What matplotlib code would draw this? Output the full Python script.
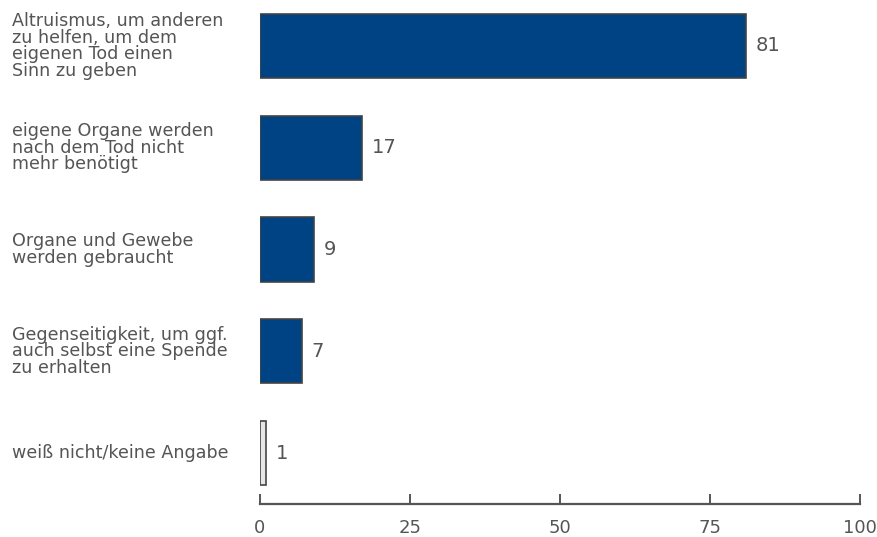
import matplotlib
matplotlib.use('Agg')
import matplotlib.pyplot as plt
import matplotlib.transforms as mtransforms

# data
categories = [
    'Altruismus, um anderen\nzu helfen, um dem\neigenen Tod einen\nSinn zu geben',
    'eigene Organe werden\nnach dem Tod nicht\nmehr benötigt',
    'Organe und Gewebe\nwerden gebraucht',
    'Gegenseitigkeit, um ggf.\nauch selbst eine Spende\nzu erhalten',
    'weiß nicht/keine Angabe',
]
values = [81, 17, 9, 7, 1]
fill_colors = ['#004384', '#004384', '#004384', '#004384', '#e6e6e6']
x_ticks = [0, 25, 50, 75, 100]

text_grey = '#555555'

fig = plt.figure(figsize=(8.78, 5.37), dpi=100)
ax = fig.add_axes([260 / 878, 33 / 537, 600 / 878, 504 / 537])

ypos = list(range(len(categories)))
ax.barh(ypos, values, height=0.63, color=fill_colors,
        edgecolor='#444444', linewidth=1.2)

# value labels next to bars
for y, v in zip(ypos, values):
    ax.text(v + 1.6, y, str(v), va='center', ha='left',
            fontsize=14, color=text_grey)

# category labels, left aligned at the figure edge
trans = mtransforms.blended_transform_factory(fig.transFigure, ax.transData)
for y, lab in zip(ypos, categories):
    ax.text(12 / 878, y, lab, transform=trans, va='center', ha='left',
            fontsize=12.6, color=text_grey, linespacing=0.9)

ax.set_xlim(0, 100)
ax.set_ylim(4.5, -0.45)
ax.set_yticks([])
ax.set_xticks(x_ticks)
ax.set_xticklabels([str(t) for t in x_ticks])

for side in ['top', 'right', 'left']:
    ax.spines[side].set_visible(False)
ax.spines['bottom'].set_color(text_grey)
ax.spines['bottom'].set_linewidth(1.6)
ax.tick_params(axis='x', direction='in', length=7, width=1.4,
               colors=text_grey, labelsize=13, pad=11)

fig.savefig('out.png', dpi=100)
